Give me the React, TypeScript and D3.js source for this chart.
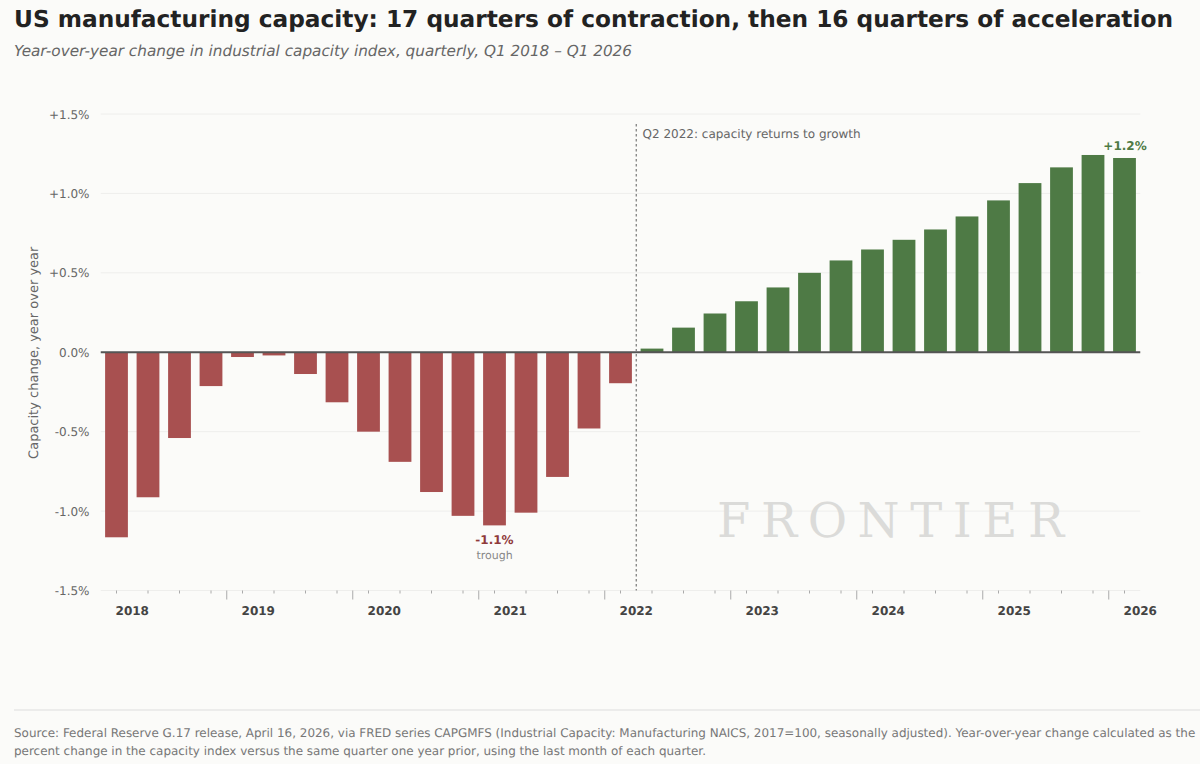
import React from "react";
import * as d3 from "d3";

const yearLabels = ["2018","2019","2020","2021","2022","2023","2024","2025","2026"];
const yTicks = [1.5, 1.0, 0.5, 0, -0.5, -1.0, -1.5];
const contraction = [-1.165,-0.913,-0.54,-0.213,-0.03,-0.02,-0.137,-0.315,-0.5,-0.69,-0.88,-1.03,-1.09,-1.01,-0.785,-0.48,-0.195];
const acceleration = [0.023,0.155,0.244,0.321,0.408,0.5,0.578,0.647,0.708,0.773,0.855,0.956,1.065,1.164,1.242,1.223];
const values = [...contraction, ...acceleration];

const SANS = "'DejaVu Sans', sans-serif";
const RED = "#a85050";
const GREEN = "#4e7a45";

const x = d3.scaleLinear().domain([-0.5, 32.5]).range([100.75, 1140.25]);
const y = d3.scaleLinear().domain([-1.5, 1.5]).range([590.5, 114]);
const barW = 22.8;
const fmt = (v: number) => (v === 0 ? "0.0%" : (v > 0 ? "+" : "") + v.toFixed(1) + "%");

export default function App() {
  return (
    <svg width={1200} height={764} viewBox="0 0 1200 764" textRendering="geometricPrecision"
      style={{ position: "absolute", left: 0, top: 0, display: "block", background: "#fbfbf9" }}>
      <text x={14} y={27} fontFamily={SANS} fontWeight={700} fontSize={23.26} fill="#222">
        US manufacturing capacity: 17 quarters of contraction, then 16 quarters of acceleration
      </text>
      <text x={14} y={55.5} fontFamily={SANS} fontStyle="italic" fontSize={15.26} fill="#666">
        Year-over-year change in industrial capacity index, quarterly, Q1 2018 – Q1 2026
      </text>

      {yTicks.map((t) => (
        <g key={t}>
          <line x1={x(-0.5)} x2={x(32.5)} y1={y(t)} y2={y(t)} stroke="#eeeeec" strokeWidth={1} />
          <text x={89.5} y={y(t) + 4.5} textAnchor="end" fontFamily={SANS} fontSize={12} fill="#666">{fmt(t)}</text>
        </g>
      ))}

      <text transform={`translate(38,${y(0) + 0.5}) rotate(-90)`} textAnchor="middle"
        fontFamily={SANS} fontSize={13} fill="#666">Capacity change, year over year</text>

      <text x={717} y={537} fontFamily="'DejaVu Serif', serif" fontSize={48} letterSpacing={10.6} fill="#dbdbd9">FRONTIER</text>

      {values.map((v, i) => (
        <rect key={i} x={x(i) - barW / 2} width={barW} y={Math.min(y(v), y(0))}
          height={Math.abs(y(v) - y(0))} fill={v < 0 ? RED : GREEN} />
      ))}

      <line x1={x(-0.5)} x2={x(32.5)} y1={y(0)} y2={y(0)} stroke="#555" strokeWidth={1.8} />
      <line x1={x(16.5)} x2={x(16.5)} y1={124} y2={y(-1.5)} stroke="#777" strokeWidth={1.2} strokeDasharray="2.5 2.5" />
      <text x={642.5} y={137.5} fontFamily={SANS} fontSize={12} fill="#666">Q2 2022: capacity returns to growth</text>

      <text x={1125} y={149.5} textAnchor="middle" fontFamily={SANS} fontWeight={700} fontSize={12} fill={GREEN}>+1.2%</text>
      <text x={x(12)} y={544} textAnchor="middle" fontFamily={SANS} fontWeight={700} fontSize={12} fill="#8f3a3a">-1.1%</text>
      <text x={x(12)} y={559} textAnchor="middle" fontFamily={SANS} fontSize={11} fill="#888">trough</text>

      {values.map((_, i) => (
        <line key={i} x1={x(i)} x2={x(i)} y1={y(-1.5)} y2={y(-1.5) + 3} stroke="#aaa" strokeWidth={1} />
      ))}
      {yearLabels.map((lab, k) => {
        const pos = k * 4 + 0.5;
        return (
          <g key={lab}>
            {pos + 3 < 33 && <line x1={x(pos + 3)} x2={x(pos + 3)} y1={y(-1.5)} y2={y(-1.5) + 9} stroke="#aaa" strokeWidth={1} />}
            <text x={x(pos)} y={614.5} textAnchor="middle" fontFamily={SANS} fontWeight={700} fontSize={12} fill="#444">{lab}</text>
          </g>
        );
      })}

      <line x1={14} x2={1200} y1={710} y2={710} stroke="#ddd" strokeWidth={1} />
      <text x={14} y={736.5} fontFamily={SANS} fontSize={11.96} fill="#777">
        Source: Federal Reserve G.17 release, April 16, 2026, via FRED series CAPGMFS (Industrial Capacity: Manufacturing NAICS, 2017=100, seasonally adjusted). Year-over-year change calculated as the
      </text>
      <text x={14} y={754.5} fontFamily={SANS} fontSize={11.96} fill="#777">
        percent change in the capacity index versus the same quarter one year prior, using the last month of each quarter.
      </text>
    </svg>
  );
}
